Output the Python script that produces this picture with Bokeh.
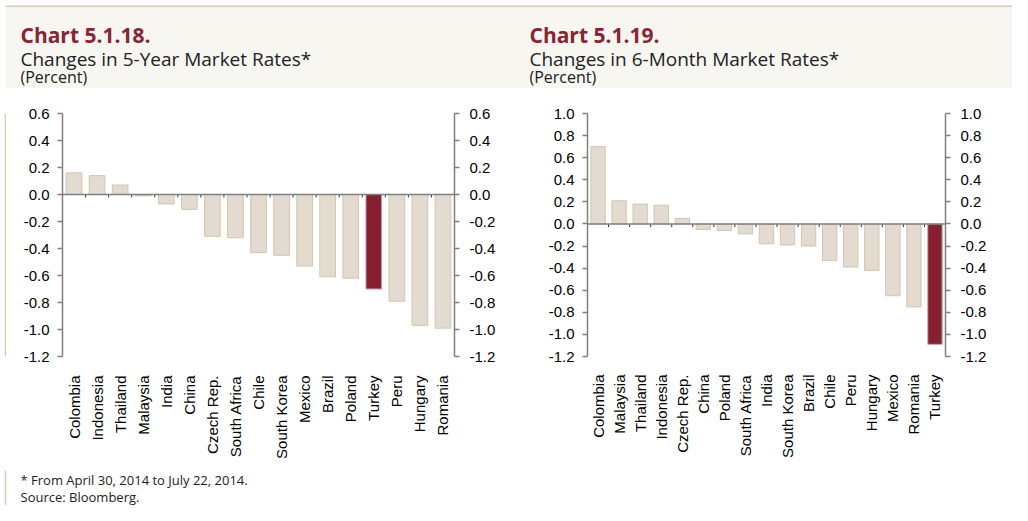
import math
from bokeh.plotting import figure
from bokeh.models import (FactorRange, Range1d, LinearAxis, FixedTicker, NumeralTickFormatter,
                          ColumnDataSource, Span, BoxAnnotation)
from bokeh.transform import dodge
from bokeh.core.properties import value
from bokeh.layouts import row, column
from bokeh.embed import file_html
from bokeh.resources import INLINE

# ---------------- data ----------------
cats_5y = ["Colombia", "Indonesia", "Thailand", "Malaysia", "India", "China", "Czech Rep.",
           "South Africa", "Chile", "South Korea", "Mexico", "Brazil", "Poland", "Turkey",
           "Peru", "Hungary", "Romania"]
vals_5y = [0.16, 0.14, 0.07, -0.01, -0.07, -0.11, -0.31, -0.32, -0.43, -0.45, -0.53,
           -0.61, -0.62, -0.70, -0.79, -0.97, -0.99]

cats_6m = ["Colombia", "Malaysia", "Thailand", "Indonesia", "Czech Rep.", "China", "Poland",
           "South Africa", "India", "South Korea", "Brazil", "Chile", "Peru", "Hungary",
           "Mexico", "Romania", "Turkey"]
vals_6m = [0.70, 0.21, 0.18, 0.17, 0.05, -0.05, -0.06, -0.09, -0.18, -0.19, -0.20, -0.33,
           -0.39, -0.42, -0.65, -0.75, -1.09]

ticks_5y = [-1.2, -1.0, -0.8, -0.6, -0.4, -0.2, 0.0, 0.2, 0.4, 0.6]
ticks_6m = [-1.2, -1.0, -0.8, -0.6, -0.4, -0.2, 0.0, 0.2, 0.4, 0.6, 0.8, 1.0]

highlight = "Turkey"

titles = ["Chart 5.1.18.", "Chart 5.1.19."]
subtitles = ["Changes in 5-Year Market Rates*", "Changes in 6-Month Market Rates*"]
unit_texts = ["(Percent)", "(Percent)"]
footnotes = ["* From April 30, 2014 to July 22, 2014.", "Source: Bloomberg."]

# ---------------- style ----------------
TOTAL_W = 1012
HEAD_H, CHART_H, FOOT_H = 88, 382, 35
SPACER_W, W1, W2 = 6, 500, 506
BAND = "#f7f6f1"
TAN = "#d9ccb1"
RED = "#8a2332"
BAR = "#e3dbd0"
BAR_LINE = "#d3c4ad"
HI = "#862030"
HI_LINE = "#c9a0a3"
AXIS = "#7f7f7f"
TICK_FONT = "Liberation Sans"
TEXT_FONT = "Open Sans"
TEXT_COLOR = "#222222"


def blank(width, height, bg):
    p = figure(width=width, height=height, x_range=Range1d(0, width), y_range=Range1d(height, 0),
               output_backend="svg", toolbar_location=None,
               x_axis_location=None, y_axis_location=None,
               min_border=0, min_border_left=0, min_border_right=0,
               min_border_top=0, min_border_bottom=0)
    p.outline_line_color = None
    p.xgrid.visible = False
    p.ygrid.visible = False
    p.background_fill_color = bg
    p.border_fill_color = bg
    return p


# ---------------- header ----------------
head = blank(TOTAL_W, HEAD_H, BAND)
head.add_layout(BoxAnnotation(top=0, bottom=5, fill_color="white", fill_alpha=1, line_color=None))
head.add_layout(BoxAnnotation(left=0, right=5, fill_color="white", fill_alpha=1, line_color=None))
head.add_layout(BoxAnnotation(top=5, bottom=6.5, left=5, fill_color=TAN, fill_alpha=1,
                              line_color=None))
tx = [20, 529]
head.text(x=tx, y=[34, 34], text=titles, text_font=value(TEXT_FONT), text_font_style="bold",
          text_font_size="21px", text_color=RED, text_baseline="alphabetic")
head.text(x=tx, y=[58, 58], text=subtitles, text_font=value(TEXT_FONT),
          text_font_size="19px", text_color=TEXT_COLOR, text_baseline="alphabetic")
head.text(x=tx, y=[76.5, 76.5], text=unit_texts, text_font=value(TEXT_FONT),
          text_font_size="16px", text_color=TEXT_COLOR, text_baseline="alphabetic")

# ---------------- left spacer with border line ----------------
spacer = blank(SPACER_W, CHART_H, "white")
spacer.add_layout(Span(location=5, dimension="height", line_color=TAN, line_width=1.5))

# ---------------- footer ----------------
foot = blank(TOTAL_W, FOOT_H, "white")
foot.segment(x0=[5], y0=[0], x1=[5], y1=[FOOT_H], line_color=TAN, line_width=1.5)
foot.text(x=[20, 20], y=[9, 26], text=footnotes, text_font=value(TEXT_FONT),
          text_font_size="13px", text_color=TEXT_COLOR, text_baseline="alphabetic")


def make_panel(cats, vals, ticks, width, borders, tick_len, standoffs):
    bl, br, bt, bb = borders
    p = figure(width=width, height=CHART_H, x_range=FactorRange(*cats),
               y_range=Range1d(ticks[0], ticks[-1]),
               output_backend="svg", toolbar_location=None,
               min_border_left=bl, min_border_right=br, min_border_top=bt, min_border_bottom=bb)
    p.outline_line_color = None
    p.xgrid.visible = False
    p.ygrid.visible = False
    p.background_fill_color = "white"
    p.border_fill_color = "white"

    colors = [HI if c == highlight else BAR for c in cats]
    lines = [HI_LINE if c == highlight else BAR_LINE for c in cats]
    src = ColumnDataSource(dict(cat=cats, val=vals, color=colors, line=lines))
    p.vbar(x="cat", top="val", bottom=0, width=0.68, source=src,
           fill_color="color", line_color="line", line_width=1)

    # zero line + category separator ticks
    p.add_layout(Span(location=0, dimension="width", line_color=AXIS, line_width=1.5))
    tsrc = ColumnDataSource(dict(cat=cats[:-1]))
    p.segment(x0=dodge("cat", 0.5, range=p.x_range), y0=0,
              x1=dodge("cat", 0.5, range=p.x_range), y1=-tick_len,
              source=tsrc, line_color="#333333", line_width=1)

    def style_y(ax, standoff):
        ax.ticker = FixedTicker(ticks=ticks)
        ax.formatter = NumeralTickFormatter(format="0.0")
        ax.axis_line_color = AXIS
        ax.axis_line_width = 1.5
        ax.major_tick_line_color = AXIS
        ax.major_tick_line_width = 1.5
        ax.major_tick_out = 5
        ax.major_tick_in = 0
        ax.minor_tick_line_color = None
        ax.major_label_text_font = TICK_FONT
        ax.major_label_text_font_size = "15px"
        ax.major_label_text_color = "#000000"
        ax.major_label_standoff = standoff

    style_y(p.yaxis[0], standoffs[0])
    right = LinearAxis()
    style_y(right, standoffs[1])
    p.add_layout(right, "right")

    xa = p.xaxis[0]
    xa.axis_line_color = None
    xa.major_tick_line_color = None
    xa.minor_tick_line_color = None
    xa.major_label_orientation = math.pi / 2
    xa.major_label_standoff = standoffs[2]
    xa.major_label_text_font = TICK_FONT
    xa.major_label_text_font_size = "15px"
    xa.major_label_text_color = "#000000"
    return p


p1 = make_panel(cats_5y, vals_5y, ticks_5y, W1, (56, 52, 25, 104), 0.022, (8, 10, 13))
p2 = make_panel(cats_6m, vals_6m, ticks_6m, W2, (81, 67, 25, 114), 0.028, (8, 10, 12))

layout = column(head, row(spacer, p1, p2, spacing=0), foot, spacing=0)

open("out.html", "w").write(file_html(layout, INLINE))
